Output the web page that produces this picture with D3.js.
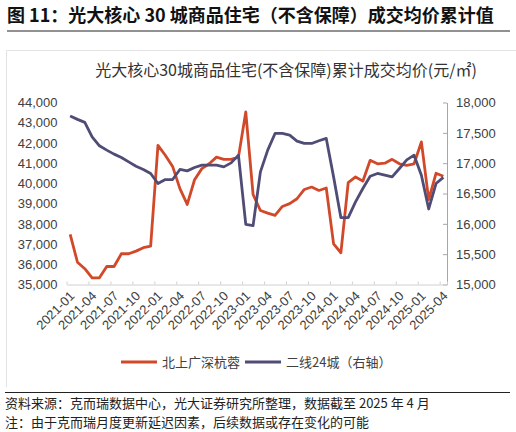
<!DOCTYPE html>
<html>
<head>
<meta charset="utf-8">
<script src="https://cdn.jsdelivr.net/npm/d3@7"></script>
<style>
  body { margin: 0; background: #fff; }
  svg { display: block; }
</style>
</head>
<body>
<div id="chart"></div>
<script>
// 数据：2021-01 至 2025-04 月度
const months = [
  '2021-01','2021-02','2021-03','2021-04','2021-05','2021-06','2021-07','2021-08','2021-09','2021-10','2021-11','2021-12',
  '2022-01','2022-02','2022-03','2022-04','2022-05','2022-06','2022-07','2022-08','2022-09','2022-10','2022-11','2022-12',
  '2023-01','2023-02','2023-03','2023-04','2023-05','2023-06','2023-07','2023-08','2023-09','2023-10','2023-11','2023-12',
  '2024-01','2024-02','2024-03','2024-04','2024-05','2024-06','2024-07','2024-08','2024-09','2024-10','2024-11','2024-12',
  '2025-01','2025-02','2025-03','2025-04'
];
// 北上广深杭蓉 (左轴)
const tier1 = [
  37480, 36100, 35780, 35330, 35330, 35890, 35890, 36520, 36520, 36650, 36820, 36900,
  41880, 41390, 40840, 39740, 38960, 40180, 40730, 40970, 41300, 41190, 41190, 41300,
  43530, 39450, 38660, 38530, 38420, 38860, 39000, 39240, 39700, 39820, 39650, 39770,
  37010, 36570, 40040, 40320, 40110, 41140, 40970, 41000, 41190, 40970, 40890, 40970,
  42050, 39200, 40500, 40350
];
// 二线24城 (右轴)
const tier2 = [
  17777, 17722, 17672, 17435, 17286, 17215, 17149, 17094, 17022, 16950, 16896, 16830,
  16664, 16730, 16730, 16896, 16873, 16929, 16967, 16967, 16967, 16939, 17005, 17132,
  15992, 15970, 16857, 17215, 17490, 17490, 17463, 17364, 17325, 17325, 17369, 17408,
  16774, 16102, 16102, 16361, 16582, 16785, 16830, 16802, 16774, 16912, 17055, 17132,
  16800, 16245, 16664, 16765
];
const leftTicks = [35000, 36000, 37000, 38000, 39000, 40000, 41000, 42000, 43000, 44000];
const rightTicks = [15000, 15500, 16000, 16500, 17000, 17500, 18000];
const xLabels = months.filter((d, i) => i % 3 === 0);

const width = 516;
const height = 432;
const plot = { left: 66.5, right: 447, top: 102.5, bottom: 284.5 };
const red = '#D2492A';
const navy = '#4F4C75';
const numFont = '"Liberation Sans", "Noto Sans CJK SC", sans-serif';
const cjkFont = '"Noto Sans CJK SC", sans-serif';

const svg = d3.select('#chart')
  .append('svg')
  .attr('width', width)
  .attr('height', height);

// 标题
svg.append('text')
  .attr('x', 7)
  .attr('y', 21.5)
  .attr('font-family', cjkFont)
  .attr('font-size', 18)
  .attr('font-weight', 'bold')
  .attr('fill', '#111')
  .text('图 11：光大核心 30 城商品住宅（不含保障）成交均价累计值');

svg.append('line')
  .attr('x1', 7).attr('x2', 510)
  .attr('y1', 31).attr('y2', 31)
  .attr('stroke', '#222').attr('stroke-width', 1);

// 图表边框 (上 + 左)
svg.append('path')
  .attr('d', 'M6.5,387 V50.5 H516')
  .attr('fill', 'none')
  .attr('stroke', '#E3E3E3')
  .attr('stroke-width', 1);

svg.append('text')
  .attr('x', 286)
  .attr('y', 75.5)
  .attr('text-anchor', 'middle')
  .attr('font-family', cjkFont)
  .attr('font-size', 16)
  .attr('fill', '#333')
  .text('光大核心30城商品住宅(不含保障)累计成交均价(元/㎡)');

// 比例尺
const x = d3.scaleBand()
  .domain(months)
  .range([plot.left, plot.right]);

const yL = d3.scaleLinear()
  .domain([35000, 44000])
  .range([plot.bottom, plot.top]);

const yR = d3.scaleLinear()
  .domain([15000, 18000])
  .range([plot.bottom, plot.top]);

const cx = d => x(d) + x.bandwidth() / 2;

// 左轴 (只有文字)
const gL = svg.append('g')
  .attr('transform', `translate(${plot.left}, 0)`)
  .call(d3.axisLeft(yL).tickValues(leftTicks).tickSize(0).tickPadding(9).tickFormat(d3.format(',')));
gL.select('.domain').remove();
gL.selectAll('text')
  .attr('font-family', numFont)
  .attr('font-size', 13)
  .attr('fill', '#404040');

// 右轴
const gR = svg.append('g')
  .attr('transform', `translate(${plot.right}, 0)`)
  .call(d3.axisRight(yR).tickValues(rightTicks).tickSizeInner(-4).tickSizeOuter(0).tickPadding(9).tickFormat(d3.format(',')));
gR.select('.domain').attr('stroke', '#A6A6A6');
gR.selectAll('.tick line').attr('stroke', '#A6A6A6');
gR.selectAll('text')
  .attr('font-family', numFont)
  .attr('font-size', 13)
  .attr('fill', '#404040');

// X轴：刻度在分类边界，每3个月一个
const xb = d3.scaleLinear()
  .domain([0, months.length])
  .range([plot.left, plot.right]);
const gX = svg.append('g')
  .attr('transform', `translate(0, ${plot.bottom})`)
  .call(d3.axisBottom(xb).tickValues(d3.range(0, months.length + 1, 3).concat([months.length])).tickSizeInner(-3).tickSizeOuter(0).tickFormat(''));
gX.select('.domain').attr('stroke', '#D0D0D0');
gX.selectAll('.tick line').attr('stroke', '#D0D0D0');

svg.append('g')
  .selectAll('text')
  .data(xLabels)
  .enter()
  .append('text')
  .attr('transform', d => `translate(${cx(d) + 2}, ${plot.bottom + 9}) rotate(-45)`)
  .attr('text-anchor', 'end')
  .attr('dy', '0.35em')
  .attr('font-family', numFont)
  .attr('font-size', 13)
  .attr('fill', '#404040')
  .text(d => d);

// 折线
const lineL = d3.line()
  .x((d, i) => cx(months[i]))
  .y(d => yL(d));
const lineR = d3.line()
  .x((d, i) => cx(months[i]))
  .y(d => yR(d));

svg.append('path')
  .datum(tier1)
  .attr('d', lineL)
  .attr('fill', 'none')
  .attr('stroke', red)
  .attr('stroke-width', 2.8)
  .attr('stroke-linejoin', 'round');

svg.append('path')
  .datum(tier2)
  .attr('d', lineR)
  .attr('fill', 'none')
  .attr('stroke', navy)
  .attr('stroke-width', 2.8)
  .attr('stroke-linejoin', 'round');

// 图例
const legend = [
  { label: '北上广深杭蓉', color: red, x: 121 },
  { label: '二线24城（右轴）', color: navy, x: 245 }
];
const lg = svg.append('g');
lg.selectAll('line')
  .data(legend)
  .enter()
  .append('line')
  .attr('x1', d => d.x).attr('x2', d => d.x + 36)
  .attr('y1', 362).attr('y2', 362)
  .attr('stroke', d => d.color)
  .attr('stroke-width', 3);
lg.selectAll('text')
  .data(legend)
  .enter()
  .append('text')
  .attr('x', d => d.x + 41)
  .attr('y', 362)
  .attr('dy', '0.36em')
  .attr('font-family', cjkFont)
  .attr('font-size', 13)
  .attr('fill', '#404040')
  .text(d => d.label);

// 脚注
svg.append('line')
  .attr('x1', 5).attr('x2', 510)
  .attr('y1', 392.5).attr('y2', 392.5)
  .attr('stroke', '#222').attr('stroke-width', 1);

const notes = [
  '资料来源：克而瑞数据中心，光大证券研究所整理，数据截至 2025 年 4 月',
  '注：由于克而瑞月度更新延迟因素，后续数据或存在变化的可能'
];
svg.selectAll('.note')
  .data(notes)
  .enter()
  .append('text')
  .attr('class', 'note')
  .attr('x', 5)
  .attr('y', (d, i) => 407.5 + i * 19.5)
  .attr('font-family', cjkFont)
  .attr('font-size', 13)
  .attr('fill', '#222')
  .text(d => d);
</script>
</body>
</html>
